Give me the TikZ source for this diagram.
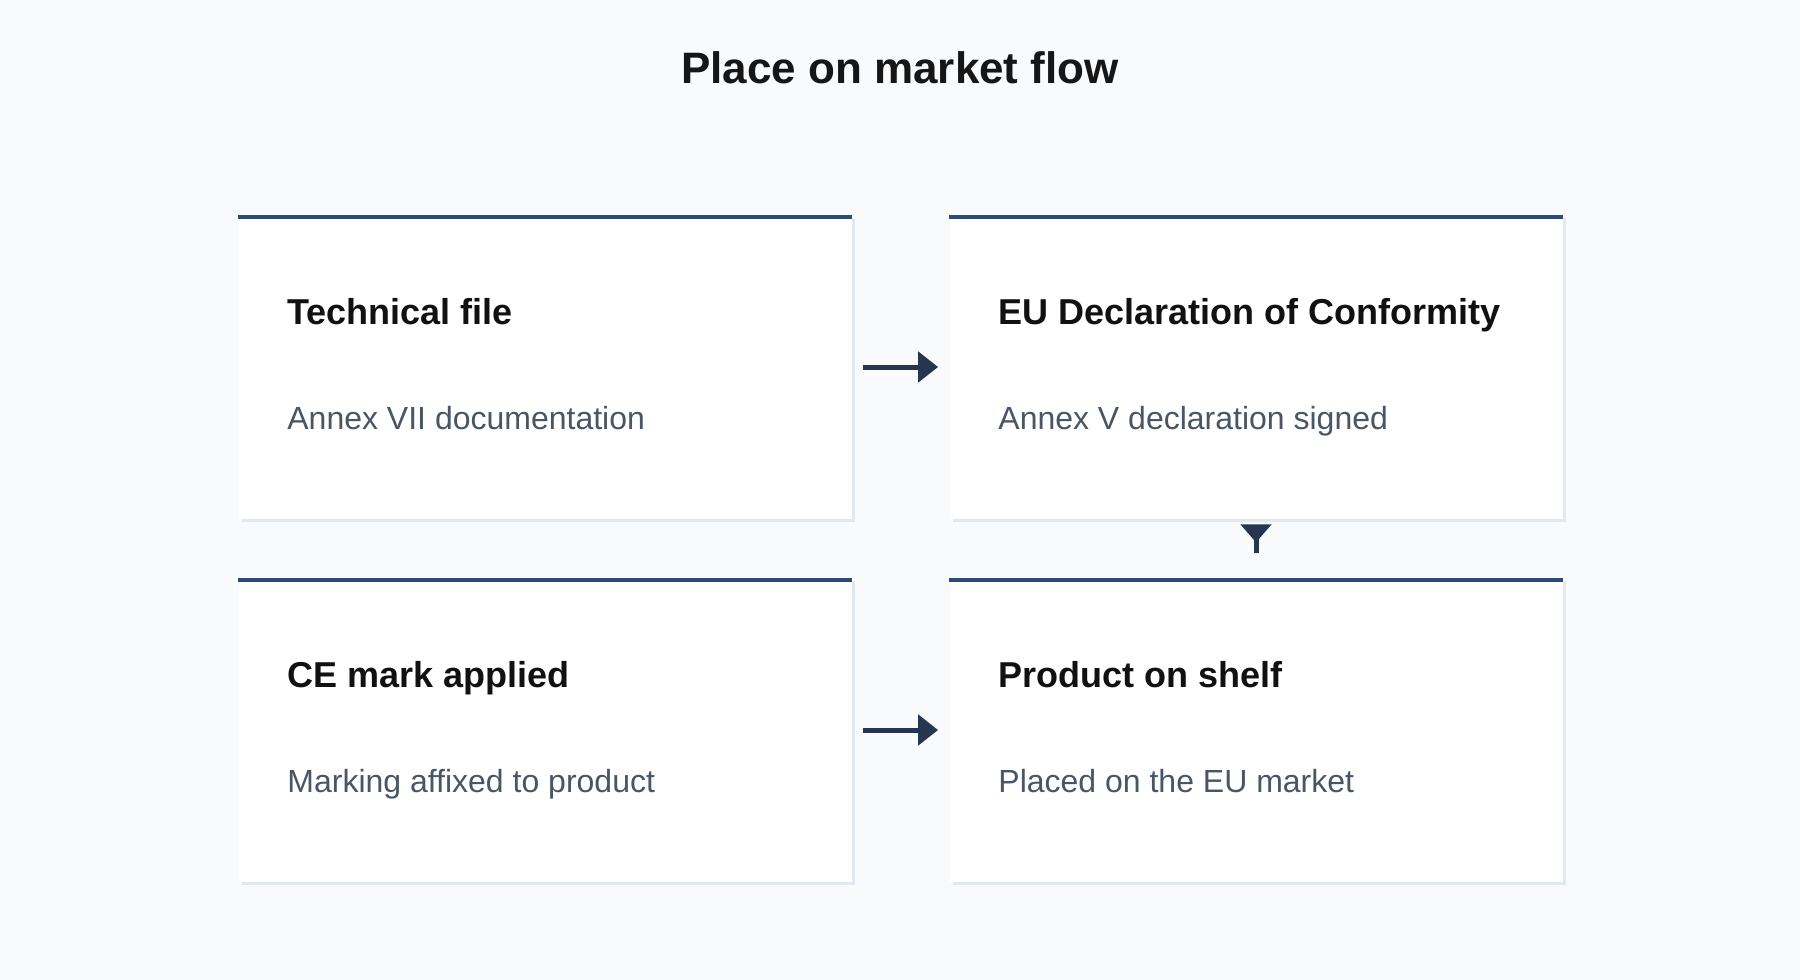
\documentclass[tikz,border=0pt]{standalone}
\usepackage{fontspec}
\setmainfont{Liberation Sans}
\usetikzlibrary{arrows.meta,shadows}
\definecolor{pagebg}{HTML}{F8FAFC}
\definecolor{cardedge}{HTML}{E2E8F0}
\definecolor{barblue}{HTML}{2D4A7A}
\definecolor{arrowc}{HTML}{263550}
\definecolor{titlec}{HTML}{161616}
\definecolor{headc}{HTML}{111111}
\definecolor{notec}{HTML}{4A5565}
\begin{document}
\begin{tikzpicture}[x=0.5pt, y=-0.5pt, inner sep=0pt,
    card/.style={rectangle, fill=white, minimum width=306.5pt, minimum height=152pt,
      drop shadow={shadow xshift=1.5pt, shadow yshift=-1.5pt, fill=cardedge, opacity=1}},
    topbar/.style={draw=barblue, line width=2pt},
    head/.style={anchor=base west, font=\bfseries\fontsize{18}{22}\selectfont, text=headc},
    note/.style={anchor=base west, font=\fontsize{16}{20}\selectfont, text=notec},
    flow/.style={draw=arrowc, line width=2.5pt, -{Triangle[length=10pt,width=15pt]}}]
  \fill[pagebg] (0,0) rectangle (1800,980);
  \useasboundingbox (0,0) rectangle (1800,980);
  \path node (title) at (900,83) [anchor=base, font=\bfseries\fontsize{22}{26}\selectfont, text=titlec] {Place on market flow}
        node (tech)  at ( 545,367) [card] {}
        node (decl)  at (1256,367) [card] {}
        node (mark)  at ( 545,730) [card] {}
        node (shelf) at (1256,730) [card] {};
  \draw[topbar] ([yshift=-1pt]tech.north west) -- ([yshift=-1pt]tech.north east)
                ([yshift=-1pt]decl.north west) -- ([yshift=-1pt]decl.north east)
                ([yshift=-1pt]mark.north west) -- ([yshift=-1pt]mark.north east)
                ([yshift=-1pt]shelf.north west) -- ([yshift=-1pt]shelf.north east);
  \path node (techH)  at (287,324) [head] {Technical file}
        node (techN)  at (287,429) [note] {Annex VII documentation}
        node (declH)  at (998,324) [head] {EU Declaration of Conformity}
        node (declN)  at (998,429) [note] {Annex V declaration signed}
        node (markH)  at (287,687) [head] {CE mark applied}
        node (markN)  at (287,792) [note] {Marking affixed to product}
        node (shelfH) at (998,687) [head] {Product on shelf}
        node (shelfN) at (998,792) [note] {Placed on the EU market};
  \draw[flow] ([xshift=5.5pt]tech.east) -- ([xshift=-5.5pt]decl.west);
  \draw[flow] ([xshift=5.5pt]mark.east) -- ([xshift=-5.5pt]shelf.west);
  \draw[flow, {Triangle[reversed, length=9pt, width=15pt]}-] ([yshift=-2.5pt]decl.south) -- ([yshift=12.5pt]shelf.north);
\end{tikzpicture}
\end{document}
